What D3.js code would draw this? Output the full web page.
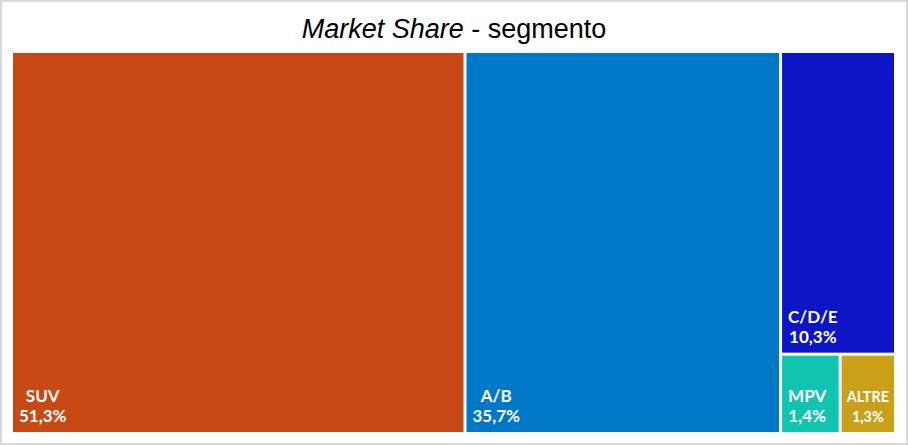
<!DOCTYPE html>
<html>
<head>
<meta charset="utf-8">
<script src="https://cdn.jsdelivr.net/npm/d3@7"></script>
<style>
  body { margin: 0; background: #fff; }
  svg { display: block; }
</style>
</head>
<body>
<svg id="chart"></svg>
<script>
// chart data
var categories = ["SUV", "A/B", "C/D/E", "MPV", "ALTRE"];
var shares = [51.3, 35.7, 10.3, 1.4, 1.3];
var parents = ["root", "root", "g1", "g2", "g2"];
var colors = ["#C84914", "#0078C8", "#0C16C4", "#10C5B0", "#C9A017"];
// grouping nodes used by the tiling
var groupIds = ["root", "g1", "g2"];
var groupParents = [null, "root", "g1"];

var W = 908, H = 446;
var area = { left: 13, top: 53, width: 881, height: 379 };

var svg = d3.select("#chart")
  .attr("width", W)
  .attr("height", H);

// outer frame
svg.append("rect")
  .attr("x", 1).attr("y", 1)
  .attr("width", W - 2).attr("height", H - 3)
  .attr("fill", "#fff")
  .attr("stroke", "#d9d9d9")
  .attr("stroke-width", 2);

// title
var title = svg.append("text")
  .attr("x", 454)
  .attr("y", 38)
  .attr("text-anchor", "middle")
  .style("font-family", "'Liberation Sans', Arial, sans-serif")
  .style("font-size", "27px")
  .attr("fill", "#000");
title.append("tspan").style("font-style", "italic").text("Market Share");
title.append("tspan").text(" - segmento");

// build the table for stratify (leaves first keeps their order among siblings)
var table = categories.map(function (c, i) {
  return { id: c, parent: parents[i], value: shares[i], color: colors[i] };
});
groupIds.forEach(function (id, i) {
  table.push({ id: id, parent: groupParents[i], value: 0 });
});

var root = d3.stratify()
  .id(function (d) { return d.id; })
  .parentId(function (d) { return d.parent; })(table)
  .sum(function (d) { return d.value; });

d3.treemap()
  .tile(d3.treemapSliceDice)
  .size([area.width, area.height])
  .paddingInner(3)(root);

var fmt = d3.format(".1f");

var g = svg.append("g")
  .attr("transform", "translate(" + area.left + "," + area.top + ")");

var leaf = g.selectAll("g.leaf")
  .data(root.leaves())
  .enter()
  .append("g")
  .attr("class", "leaf");

leaf.append("rect")
  .attr("x", function (d) { return d.x0; })
  .attr("y", function (d) { return d.y0; })
  .attr("width", function (d) { return d.x1 - d.x0; })
  .attr("height", function (d) { return d.y1 - d.y0; })
  .attr("fill", function (d) { return d.data.color; });

var baseSize = 17;
leaf.each(function (d) {
  var lbl = d3.select(this).append("text")
    .attr("fill", "#fff")
    .attr("text-anchor", "middle")
    .style("font-family", "Lato, 'Noto Sans', sans-serif")
    .style("font-weight", "bold")
    .style("font-size", baseSize + "px");
  var l1 = lbl.append("tspan").attr("y", d.y1 - 30).text(d.data.id);
  var l2 = lbl.append("tspan").attr("y", d.y1 - 10).text(fmt(d.data.value).replace(".", ",") + "%");

  var bw = Math.max(l1.node().getComputedTextLength(), l2.node().getComputedTextLength());
  var boxW = d.x1 - d.x0;
  var cx = d.x0 + 6 + bw / 2;
  if (bw + 12 > boxW) {
    // shrink to fit and centre in the box
    var size = baseSize * (boxW - 10) / bw;
    lbl.style("font-size", size + "px");
    cx = (d.x0 + d.x1) / 2;
  }
  l1.attr("x", cx);
  l2.attr("x", cx);
});
</script>
</body>
</html>
